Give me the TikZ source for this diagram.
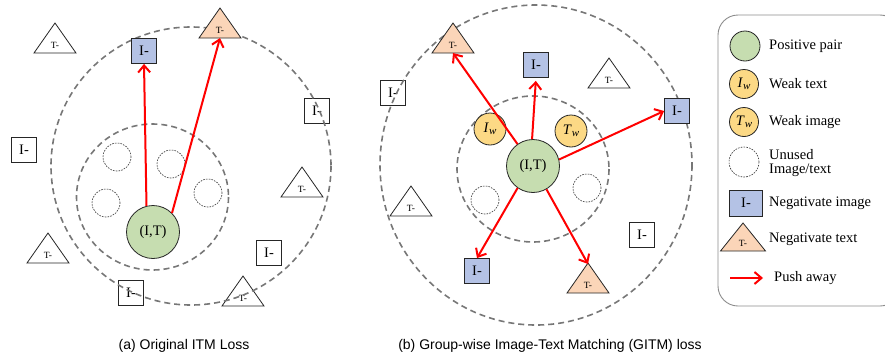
\documentclass[tikz,border=0pt]{standalone}
\usepackage{fontspec}
\setmainfont{Liberation Serif}
\setsansfont{Liberation Sans}
\usetikzlibrary{arrows.meta}

\definecolor{posgreen}{HTML}{C6DDB0}
\definecolor{weakyellow}{HTML}{FCD985}
\definecolor{negblue}{HTML}{B4C2E5}
\definecolor{negorange}{HTML}{FBD5B8}
\definecolor{ringgray}{HTML}{777777}
\definecolor{pushred}{HTML}{FF0000}

\tikzset{
  ring/.style={draw=ringgray, line width=1.6pt, dash pattern=on 6pt off 4pt},
  unused/.style={circle, draw=black!80, line width=0.6pt, dash pattern=on 1.6pt off 1.2pt, minimum size=28pt, inner sep=0pt},
  pospair/.style={circle, draw=black!85, line width=0.8pt, fill=posgreen, minimum size=53pt, inner sep=0pt, font=\fontsize{14.5}{16}\selectfont},
  weak/.style={circle, draw=black!85, line width=0.8pt, fill=weakyellow, minimum size=32pt, inner sep=0pt, font=\fontsize{14.5}{16}\selectfont},
  imgbox/.style={draw=black!85, line width=0.8pt, minimum width=25pt, minimum height=25pt, inner sep=0pt, font=\fontsize{14.5}{16}\selectfont},
  tri/.style={draw=black!85, line width=0.8pt, line join=miter},
  tlabel/.style={inner sep=0pt, font=\fontsize{9.5}{10}\selectfont},
  push/.style={draw=pushred, line width=2pt, -{Straight Barb[length=7pt, width=12pt, line width=2pt]}},
  legtext/.style={anchor=west, inner sep=0pt, font=\fontsize{14.5}{16.5}\selectfont, align=left},
  caption/.style={font=\sffamily\fontsize{14}{16}\selectfont, inner sep=0pt},
}

% text triangle: name, x, y of base centre, fill colour
\newcommand\textri[4]{%
  \draw[tri, fill=#4] (#2-21,#3) -- (#2+21,#3) -- (#2,#3-30) -- cycle;
  \coordinate (#1) at (#2,#3);
  \coordinate (#1-top) at (#2,#3-29);
  \node[tlabel] (#1-t) at (#2,#3-8) {T-};}

\newcommand\wsub[1]{\textit{#1}\raisebox{-0.35ex}{\fontsize{11}{12}\selectfont\textit{w}}}

\begin{document}
\begin{tikzpicture}[x=1pt, y=-1pt]
\useasboundingbox (0,0) rectangle (885,359);
\clip (0,0) rectangle (885,359);

% ---------------- (a) original ITM loss ----------------
% negatives outside the sampled set
\node[imgbox] (a-i1) at (317,111) {I-};
\node[imgbox] (a-i2) at (24,150) {I-};
\node[imgbox] (a-i3) at (269,253) {I-};
\node[imgbox] (a-i4) at (131,293) {I-};
\textri{a-t1}{55}{53}{white}
\textri{a-t2}{302}{197}{white}
\textri{a-t3}{48}{263}{white}
\textri{a-t4}{243}{306}{white}

% rings
\draw[ring] (191,166) ellipse [x radius=140, y radius=139];
\draw[ring] (152.5,197) ellipse [x radius=76, y radius=73];

\node[unused] (a-u1) at (117,157) {};
\node[unused] (a-u2) at (171,164) {};
\node[unused] (a-u3) at (106,203) {};
\node[unused] (a-u4) at (208,193) {};

\node[pospair] (a-p) at (153,232) {(I,T)};
\node[imgbox, fill=negblue] (a-neg-i) at (144,51) {I-};
\textri{a-neg-t}{220}{38}{negorange}

\draw[push] (a-p.104) -- (a-neg-i.south);
\draw[push] (a-p.45) -- (a-neg-t);

% ---------------- (b) group-wise ITM loss ----------------
\node[imgbox] (b-i1) at (393,93) {I-};
\node[imgbox] (b-i2) at (642,235) {I-};
\textri{b-t1}{609}{88}{white}
\textri{b-t2}{411}{216}{white}

\draw[ring] (536,165) ellipse [x radius=156, y radius=160];
\draw[ring] (533,169) ellipse [x radius=76, y radius=73];

\node[unused] (b-u1) at (485,200) {};
\node[unused] (b-u2) at (587,188) {};

\node[weak] (b-iw) at (490,129) {\wsub{I}};
\node[weak] (b-tw) at (571,131) {\wsub{T}};
\node[pospair] (b-p) at (533,166) {(I,T)};

\node[imgbox, fill=negblue] (b-neg-i1) at (536,65) {I-};
\node[imgbox, fill=negblue] (b-neg-i2) at (677,111) {I-};
\node[imgbox, fill=negblue] (b-neg-i3) at (477,271) {I-};
\textri{b-neg-t1}{453}{53}{negorange}
\textri{b-neg-t2}{588}{293}{negorange}

\draw[push] (b-p) -- (b-neg-t1);
\draw[push, shorten >=3pt] (b-p.92) -- (b-neg-i1.south);
\draw[push] (b-p.14) -- (b-neg-i2.west);
\draw[push] (b-p.235) -- (b-neg-i3.north);
\draw[push] (b-p.300) -- (b-neg-t2-top);

% ---------------- legend ----------------
\draw[draw=black!45, line width=0.9pt, rounded corners=20pt] (718,15) rectangle (900,306);

\node[pospair, minimum size=30pt] (l-pos) at (745,46) {};
\node[legtext] (l-pos-t) at (769,46) {Positive pair};
\node[weak, minimum size=29pt] (l-iw) at (744,84) {\wsub{I}};
\node[legtext] (l-iw-t) at (769,84) {Weak text};
\node[weak, minimum size=29pt] (l-tw) at (744,122) {\wsub{T}};
\node[legtext] (l-tw-t) at (769,122) {Weak image};
\node[unused, minimum size=30pt] (l-un) at (744,162) {};
\node[legtext] (l-un-t) at (769,163) {Unused\\[-2pt]Image/text};
\node[imgbox, fill=negblue, minimum width=33pt, minimum height=26pt] (l-ni) at (746,203) {I-};
\node[legtext] (l-ni-t) at (769,203) {Negativate image};
\draw[tri, fill=negorange] (720.5,251) -- (765.5,251) -- (743,223) -- cycle;
\node[tlabel] (l-nt) at (743,243) {T-};
\node[legtext] (l-nt-t) at (769,239) {Negativate text};
\coordinate (l-arr-s) at (730,278);
\coordinate (l-arr-e) at (763,278);
\draw[push] (l-arr-s) -- (l-arr-e);
\node[legtext] (l-push-t) at (774,278) {Push away};

% ---------------- captions ----------------
\node[caption] (cap-a) at (184,346) {(a) Original ITM Loss};
\node[caption] (cap-b) at (550,346) {(b) Group-wise Image-Text Matching (GITM) loss};
\end{tikzpicture}
\end{document}
